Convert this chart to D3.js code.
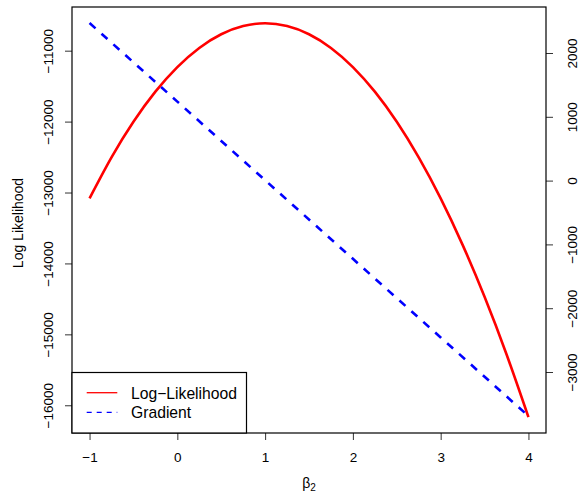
<!DOCTYPE html>
<html lang="en">
<head>
  <meta charset="utf-8">
  <title>Log Likelihood and Gradient</title>
  <script src="https://d3js.org/d3.v7.min.js"></script>
  <style>
    body { margin: 0; background: #fff; }
    text { font-family: "Liberation Sans", Arial, sans-serif; fill: #000; }
  </style>
</head>
<body>
  <div id="chart"></div>

  <script>
    "use strict"

    var beta = [-1, -0.75, -0.5, -0.25, 0, 0.25, 0.5, 0.75, 1, 1.25, 1.5,
                1.75, 2, 2.25, 2.5, 2.75, 3, 3.25, 3.5, 3.75, 4];
    var logLik = [-13082, -12504, -12002, -11578, -11231, -10961, -10768, -10653,
                  -10614, -10653, -10768, -10961, -11231, -11578, -12002, -12504,
                  -13082, -13738, -14470, -15280, -16167];

    var gradBeta = [-1, 0, 1, 2, 3, 4];
    var gradient = [2470, 1238, 6, -1226, -2458, -3690];

    var xTicks = [-1, 0, 1, 2, 3, 4];
    var leftTicks = [-11000, -12000, -13000, -14000, -15000, -16000];
    var rightTicks = [2000, 1000, 0, -1000, -2000, -3000];

    var legendLabels = ["Log\u2212Likelihood", "Gradient"];

    var largura = 580, altura = 497;
    var box = {left: 72, right: 546, top: 7, bottom: 433};

    var svg = d3.select("#chart").append("svg")
      .attr("width", largura)
      .attr("height", altura);

    var x = d3.scaleLinear().domain([-1.2, 4.2]).range([box.left, box.right]);
    var yL = d3.scaleLinear().domain([-16391, -10384]).range([box.bottom, box.top]);
    var yR = d3.scaleLinear().domain([-3956, 2721]).range([box.bottom, box.top]);

    var fmt = function(d) { return String(d).replace("-", "\u2212"); };

    // curves
    var llLine = d3.line()
      .x(function(d, i) { return x(beta[i]); })
      .y(function(d) { return yL(d); })
      .curve(d3.curveNatural);

    svg.append("path")
      .attr("d", llLine(logLik))
      .attr("fill", "none")
      .attr("stroke", "#ff0000")
      .attr("stroke-width", 2.6);

    var gLine = d3.line()
      .x(function(d, i) { return x(gradBeta[i]); })
      .y(function(d) { return yR(d); });

    svg.append("path")
      .attr("d", gLine(gradient))
      .attr("fill", "none")
      .attr("stroke", "#0000ff")
      .attr("stroke-width", 2.6)
      .attr("stroke-dasharray", "8,8");

    // axes
    var axB = svg.append("g")
      .attr("transform", "translate(0," + box.bottom + ")")
      .call(d3.axisBottom(x).tickValues(xTicks).tickSize(7).tickFormat(fmt));

    var axL = svg.append("g")
      .attr("transform", "translate(" + box.left + ",0)")
      .call(d3.axisLeft(yL).tickValues(leftTicks).tickSize(7).tickFormat(fmt));

    var axR = svg.append("g")
      .attr("transform", "translate(" + box.right + ",0)")
      .call(d3.axisRight(yR).tickValues(rightTicks).tickSize(7).tickFormat(fmt));

    [axB, axL, axR].forEach(function(a) {
      a.select(".domain").remove();
      a.selectAll("line").attr("stroke", "#333");
      a.selectAll("text")
        .style("font-family", "'Liberation Sans', Arial, sans-serif")
        .style("font-size", "13.5px")
        .attr("fill", "#111");
    });

    axB.selectAll("text").attr("dy", "0").attr("y", 29);

    axL.selectAll("text")
      .attr("x", null).attr("dy", null)
      .attr("text-anchor", "middle")
      .attr("transform", "translate(-19,0) rotate(-90)")
      .attr("y", 0);

    axR.selectAll("text")
      .attr("x", null).attr("dy", null)
      .attr("text-anchor", "middle")
      .attr("transform", "translate(30.5,0) rotate(-90)")
      .attr("y", 0);

    // box
    svg.append("rect")
      .attr("x", box.left).attr("y", box.top)
      .attr("width", box.right - box.left)
      .attr("height", box.bottom - box.top)
      .attr("fill", "none")
      .attr("stroke", "#000")
      .attr("stroke-width", 1.2);

    // axis titles
    svg.append("text")
      .attr("transform", "translate(23," + ((box.top + box.bottom) / 2 + 3) + ") rotate(-90)")
      .attr("text-anchor", "middle")
      .style("font-size", "14px")
      .text("Log Likelihood");

    var xt = svg.append("text")
      .attr("x", 309).attr("y", 488)
      .attr("text-anchor", "middle")
      .style("font-size", "14px");
    xt.append("tspan").text("\u03b2");
    xt.append("tspan").attr("dy", 3).style("font-size", "10px").text("2");

    // legend
    var leg = svg.append("g");
    leg.append("rect")
      .attr("x", box.left).attr("y", 372.5)
      .attr("width", 246.5 - box.left)
      .attr("height", box.bottom - 372.5)
      .attr("fill", "#fff")
      .attr("stroke", "#000")
      .attr("stroke-width", 1.2);

    var legCores = ["#ff0000", "#0000ff"];
    var legDash = [null, "5,5"];
    legendLabels.forEach(function(lab, i) {
      var yy = 392.7 + i * 19.6;
      leg.append("line")
        .attr("x1", 86.7).attr("x2", 117.3)
        .attr("y1", yy).attr("y2", yy)
        .attr("stroke", legCores[i])
        .attr("stroke-width", 1.3)
        .attr("stroke-dasharray", legDash[i]);
      leg.append("text")
        .attr("x", 131).attr("y", yy + 6)
        .style("font-size", "15.7px")
        .text(lab);
    });
  </script>
</body>
</html>
